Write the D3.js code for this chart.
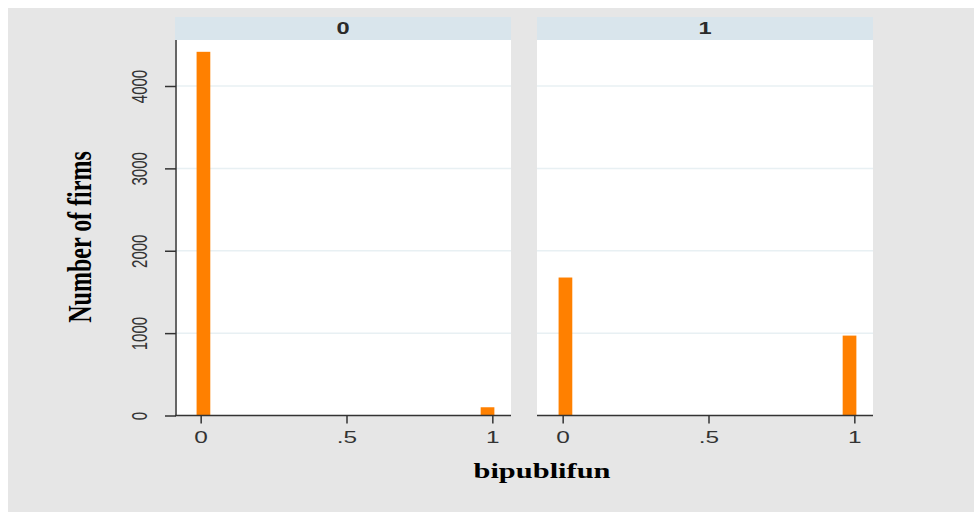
<!DOCTYPE html>
<html>
<head>
<meta charset="utf-8">
<script src="https://cdn.jsdelivr.net/npm/d3@7"></script>
<style>
  body { margin: 0; background: #fff; }
  svg { display: block; }
</style>
</head>
<body>
<div class="vis-hist"></div>
<script>
// facet values and histogram counts
const groups = ["0", "1"];
const binStart = [-0.014, 0.96];
const binWidth = 0.047;
const counts = [
    [4415, 100],
    [1675, 970]
];
const yTicks = [0, 1000, 2000, 3000, 4000];
const xTicks = [0, 0.5, 1];
const xTickLabels = ["0", ".5", "1"];
const yTitle = "Number of firms";
const xTitle = "bipublifun";

const width = 974, height = 512;
const stretch = 1.48; // the picture is widened horizontally

const svg = d3.select('.vis-hist')
    .append('svg')
    .attr('width', width)
    .attr('height', height);

svg.append('rect')
    .attr('x', 8).attr('y', 8)
    .attr('width', width - 8).attr('height', height - 8)
    .attr('fill', '#e6e6e6');

const plotTop = 40, plotBottom = 415.5;
const panels = [[175, 511], [537, 873]];

const y = d3.scaleLinear().domain([0, 4000]).range([plotBottom, 86]);

panels.forEach((p, k) => {
    const x = d3.scaleLinear().domain([-0.088, 1.064]).range(p);
    const g = svg.append('g');

    // header strip
    g.append('rect')
        .attr('x', p[0]).attr('y', 17)
        .attr('width', p[1] - p[0]).attr('height', 23)
        .attr('fill', '#d9e5ec');
    g.append('text')
        .attr('transform', 'translate(' + ((p[0] + p[1]) / 2) + ',34) scale(' + stretch + ',1)')
        .attr('text-anchor', 'middle')
        .style('font-family', 'Liberation Sans, Arial, sans-serif')
        .style('font-weight', 'bold')
        .style('font-size', '16px')
        .attr('fill', '#2a2a2a')
        .text(groups[k]);

    // plot area
    g.append('rect')
        .attr('x', p[0]).attr('y', plotTop)
        .attr('width', p[1] - p[0]).attr('height', plotBottom - plotTop)
        .attr('fill', '#fff');

    // gridlines
    g.selectAll('.grid')
        .data(yTicks.filter(d => d > 0))
        .enter().append('line')
        .attr('x1', p[0]).attr('x2', p[1])
        .attr('y1', d => y(d)).attr('y2', d => y(d))
        .attr('stroke', '#e8f0f3')
        .attr('stroke-width', 1.5);

    // bars
    g.selectAll('.bar')
        .data(counts[k])
        .enter().append('rect')
        .attr('x', (d, i) => x(binStart[i]))
        .attr('width', (d, i) => x(binStart[i] + binWidth) - x(binStart[i]))
        .attr('y', d => y(d))
        .attr('height', d => y(0) - y(d))
        .attr('fill', '#ff8000');

    // x axis
    const xAxis = g.append('g')
        .attr('transform', 'translate(0,' + plotBottom + ')')
        .call(d3.axisBottom(x).tickValues(xTicks)
            .tickFormat((d, i) => xTickLabels[i])
            .tickSize(8).tickSizeOuter(0));
    xAxis.select('.domain').attr('d', 'M' + p[0] + ',0H' + p[1])
        .attr('stroke', '#333').attr('stroke-width', 1.5);
    xAxis.selectAll('.tick line').attr('stroke', '#333').attr('stroke-width', 1.5);
    xAxis.selectAll('.tick text')
        .attr('y', 0).attr('dy', 0)
        .attr('transform', 'translate(0,27) scale(' + stretch + ',1)')
        .style('font-family', 'Liberation Sans, Arial, sans-serif')
        .style('font-size', '16.5px')
        .attr('fill', '#333');

    // y axis only on the first panel
    if (k === 0) {
        const yAxis = g.append('g')
            .attr('transform', 'translate(' + (p[0] + 1) + ',0)')
            .call(d3.axisLeft(y).tickValues(yTicks).tickFormat(d3.format('d'))
                .tickSize(11).tickSizeOuter(0));
        yAxis.select('.domain').attr('d', 'M0,' + plotTop + 'V' + plotBottom)
            .attr('stroke', '#333').attr('stroke-width', 1.5);
        yAxis.selectAll('.tick line').attr('stroke', '#333').attr('stroke-width', 1.5);
        yAxis.selectAll('.tick text')
            .attr('x', 0).attr('dy', 0)
            .attr('text-anchor', 'middle')
            .attr('transform', 'translate(-29,0) scale(' + stretch + ',1) rotate(-90)')
            .style('font-family', 'Liberation Sans, Arial, sans-serif')
            .style('font-size', '15px')
            .attr('fill', '#333');
    }
});

// axis titles
svg.append('text')
    .attr('transform', 'translate(91,237) scale(1.4,1) rotate(-90)')
    .attr('text-anchor', 'middle')
    .style('font-family', 'Liberation Serif, Times New Roman, serif')
    .style('font-weight', 'bold')
    .style('font-size', '24px')
    .attr('fill', '#000')
    .text(yTitle);

svg.append('text')
    .attr('transform', 'translate(542,478) scale(1.45,1)')
    .attr('text-anchor', 'middle')
    .style('font-family', 'Liberation Serif, Times New Roman, serif')
    .style('font-weight', 'bold')
    .style('font-size', '21px')
    .attr('fill', '#000')
    .text(xTitle);
</script>
</body>
</html>
